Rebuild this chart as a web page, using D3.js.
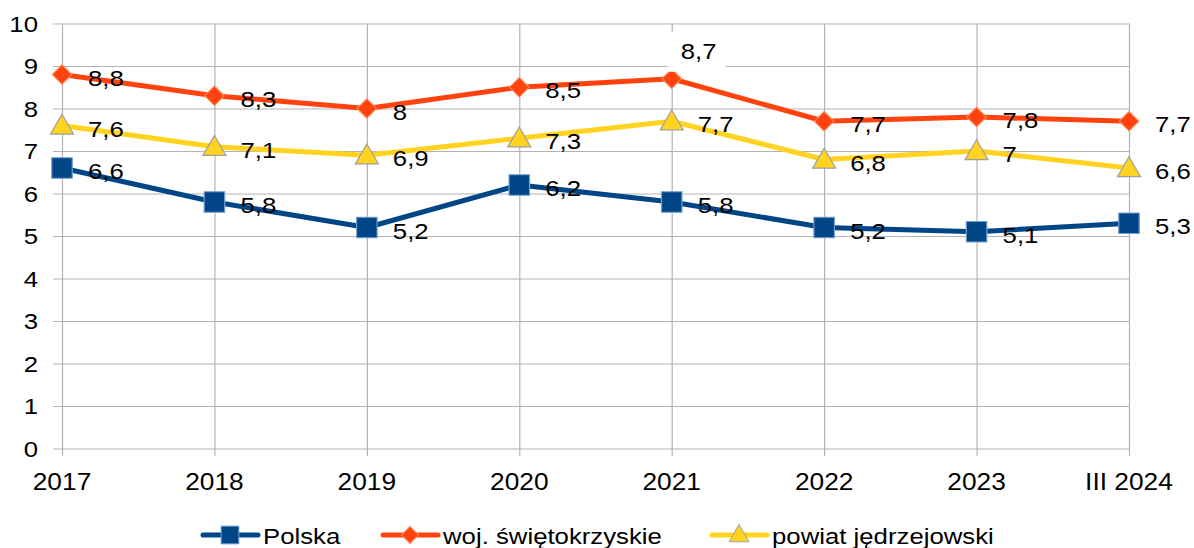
<!DOCTYPE html>
<html>
<head>
<meta charset="utf-8">
<script src="https://cdn.jsdelivr.net/npm/d3@7"></script>
<style>
  body { margin: 0; background: #fff; }
  text { font-family: "Liberation Sans", Arial, sans-serif; fill: #000; }
</style>
</head>
<body>
<div id="chart"></div>
<script>
const years = ["2017", "2018", "2019", "2020", "2021", "2022", "2023", "III 2024"];
const polska = [6.6, 5.8, 5.2, 6.2, 5.8, 5.2, 5.1, 5.3];
const swietokrzyskie = [8.8, 8.3, 8.0, 8.5, 8.7, 7.7, 7.8, 7.7];
const jedrzejowski = [7.6, 7.1, 6.9, 7.3, 7.7, 6.8, 7.0, 6.6];
const yTicks = [0, 1, 2, 3, 4, 5, 6, 7, 8, 9, 10];

const svgWidth = 1194;
const svgHeight = 548;
const stretch = 1.12; // text in the original looks slightly wide

var svg = d3.select("#chart")
  .append("svg")
  .attr("width", svgWidth)
  .attr("height", svgHeight);

var x = d3.scalePoint()
  .domain(years)
  .range([62, 1129]);

var y = d3.scaleLinear()
  .domain([0, 10])
  .range([448.5, 23.5]);

// helper: text placed at (tx, ty) and stretched horizontally
function addText(parent, tx, ty, str, size, anchor) {
  return parent.append("text")
    .attr("transform", `translate(${tx},${ty}) scale(${stretch},1)`)
    .attr("font-size", size)
    .attr("text-anchor", anchor || "start")
    .text(str);
}

// horizontal gridlines
var yAxis = svg.append("g")
  .attr("transform", "translate(1129,0)")
  .call(d3.axisLeft(y).tickValues(yTicks).tickSize(1129 - 53).tickFormat(""));
yAxis.select(".domain").remove();
yAxis.selectAll("line").attr("stroke", "#b3b3b3").attr("stroke-width", 1.2);

yTicks.forEach(function(t) {
  addText(svg, 38, y(t) + 8, t, 23, "end");
});

// vertical gridlines
var xAxis = svg.append("g")
  .attr("transform", "translate(0,23.5)")
  .call(d3.axisBottom(x).tickSize(456 - 23.5).tickFormat(""));
xAxis.select(".domain").remove();
xAxis.selectAll("line").attr("stroke", "#b3b3b3").attr("stroke-width", 1.2);

years.forEach(function(yr) {
  addText(svg, x(yr), 490, yr, 23.5, "middle");
});

var series = [
  { name: "Polska", values: polska, color: "#004586", stroke: "#729fcf", symbol: d3.symbolSquare, size: 420, rot: 0 },
  { name: "woj. świętokrzyskie", values: swietokrzyskie, color: "#ff420e", stroke: "#ff8a5a", symbol: d3.symbolSquare, size: 190, rot: 45 },
  { name: "powiat jędrzejowski", values: jedrzejowski, color: "#ffd320", stroke: "#a0a0a0", symbol: d3.symbolTriangle, size: 230, rot: 0 }
];

var line = d3.line()
  .x((d, i) => x(years[i]))
  .y(d => y(d));

series.forEach(function(s) {
  svg.append("path")
    .datum(s.values)
    .attr("fill", "none")
    .attr("stroke", s.color)
    .attr("stroke-width", 5)
    .attr("stroke-linejoin", "round")
    .attr("d", line);

  svg.selectAll(null)
    .data(s.values)
    .enter()
    .append("path")
    .attr("d", d3.symbol().type(s.symbol).size(s.size))
    .attr("transform", (d, i) => `translate(${x(years[i])},${y(d) + (s.symbol === d3.symbolTriangle ? 2 : 0)}) rotate(${s.rot})`)
    .attr("fill", s.color)
    .attr("stroke", s.stroke)
    .attr("stroke-width", 1.2);
});

// data labels
var fmt = v => String(v).replace(".", ",");
series.forEach(function(s) {
  s.values.forEach(function(v, i) {
    var px = x(years[i]);
    var py = y(v);
    if (s.name === "woj. świętokrzyskie" && years[i] === "2021") {
      // this one sits above the point, on a white box
      svg.append("rect")
        .attr("x", px - 4)
        .attr("y", py - 47)
        .attr("width", 58)
        .attr("height", 40)
        .attr("fill", "#fff");
      addText(svg, px + 9, py - 20, fmt(v), 23);
    } else {
      addText(svg, px + 26, py + 11, fmt(v), 23);
    }
  });
});

// legend
var legendPos = [203, 383, 712];
series.forEach(function(s, i) {
  var g = svg.append("g").attr("transform", `translate(${legendPos[i]},535)`);
  g.append("line")
    .attr("x1", 0).attr("x2", 55)
    .attr("stroke", s.color)
    .attr("stroke-width", 5)
    .attr("stroke-linecap", "round");
  g.append("path")
    .attr("d", d3.symbol().type(s.symbol).size(s.size * 0.75))
    .attr("transform", `translate(27,${s.symbol === d3.symbolTriangle ? 1 : 0}) rotate(${s.rot})`)
    .attr("fill", s.color)
    .attr("stroke", s.stroke)
    .attr("stroke-width", 1);
  addText(g, 60, 9, s.name, 23);
});
</script>
</body>
</html>
